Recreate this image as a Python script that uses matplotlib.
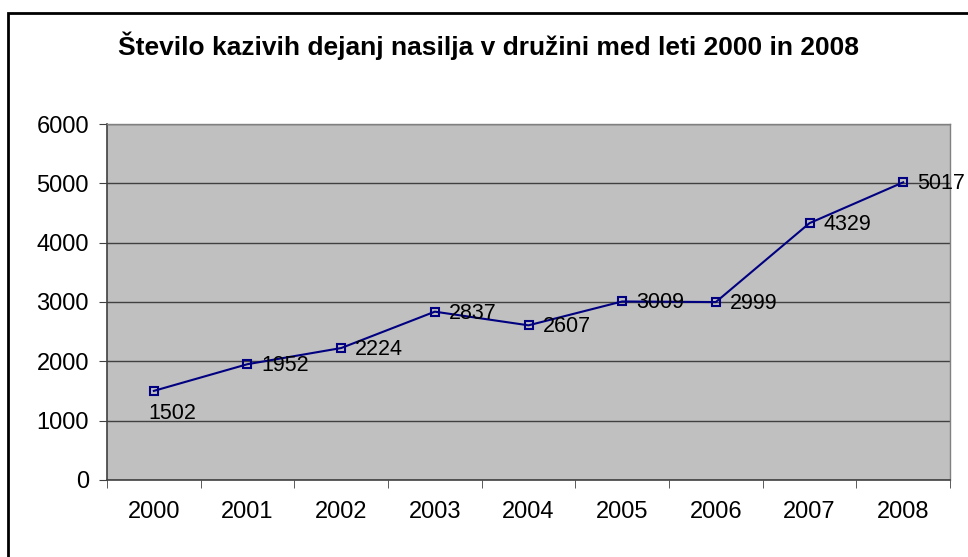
import matplotlib.pyplot as plt
from matplotlib.patches import Rectangle

years = ['2000', '2001', '2002', '2003', '2004', '2005', '2006', '2007', '2008']
cases = [1502, 1952, 2224, 2837, 2607, 3009, 2999, 4329, 5017]
title = 'Število kazivih dejanj nasilja v družini med leti 2000 in 2008'

plt.rcParams['font.family'] = ['Liberation Sans', 'DejaVu Sans']

fig = plt.figure(figsize=(9.68, 5.57), dpi=100)
fig.patch.set_facecolor('white')

# outer chart border (only left and top are visible in the picture)
fig.patches.append(Rectangle((8 / 968, -0.1), 1.2, 1 - 13 / 557 + 0.1,
                             transform=fig.transFigure, fill=False,
                             edgecolor='black', linewidth=2))

ax = fig.add_axes([107 / 968, 1 - 480 / 557, 843 / 968, 356 / 557])
ax.set_facecolor('#C0C0C0')

x = list(range(len(years)))
ax.plot(x, cases, color='#000080', linewidth=1.5, marker='s', markersize=6,
        markerfacecolor='none', markeredgecolor='#000080', markeredgewidth=1.5,
        zorder=3)

for i, v in enumerate(cases):
    if i == 0:
        ax.annotate(str(v), (i, v), xytext=(-4, -9), textcoords='offset points',
                    ha='left', va='top', fontsize=15.5)
    else:
        ax.annotate(str(v), (i, v), xytext=(10, -1), textcoords='offset points',
                    ha='left', va='center', fontsize=15.5, annotation_clip=False)

ax.set_xlim(-0.5, len(years) - 0.5)
ax.set_ylim(0, 6000)
ax.set_yticks(range(0, 6001, 1000))
ax.yaxis.grid(True, color='#404040', linewidth=1)
ax.set_axisbelow(True)

ax.set_xticks(x)
ax.set_xticklabels(years)
ax.tick_params(axis='x', length=0, pad=15, labelsize=17)
ax.set_xticks([i + 0.5 for i in range(-1, len(years))], minor=True)
ax.tick_params(axis='x', which='minor', length=6, color='#404040', direction='out')
ax.tick_params(axis='y', length=6, color='#404040', labelsize=17, pad=7)

for side in ['left', 'bottom']:
    ax.spines[side].set_color('#404040')
    ax.spines[side].set_linewidth(1.2)
for side in ['right', 'top']:
    ax.spines[side].set_color('#808080')
    ax.spines[side].set_linewidth(1)

fig.text(488 / 968, 1 - 46 / 557, title, ha='center', va='center',
         fontsize=19, fontweight='bold')

fig.savefig('out.png', dpi=100)
